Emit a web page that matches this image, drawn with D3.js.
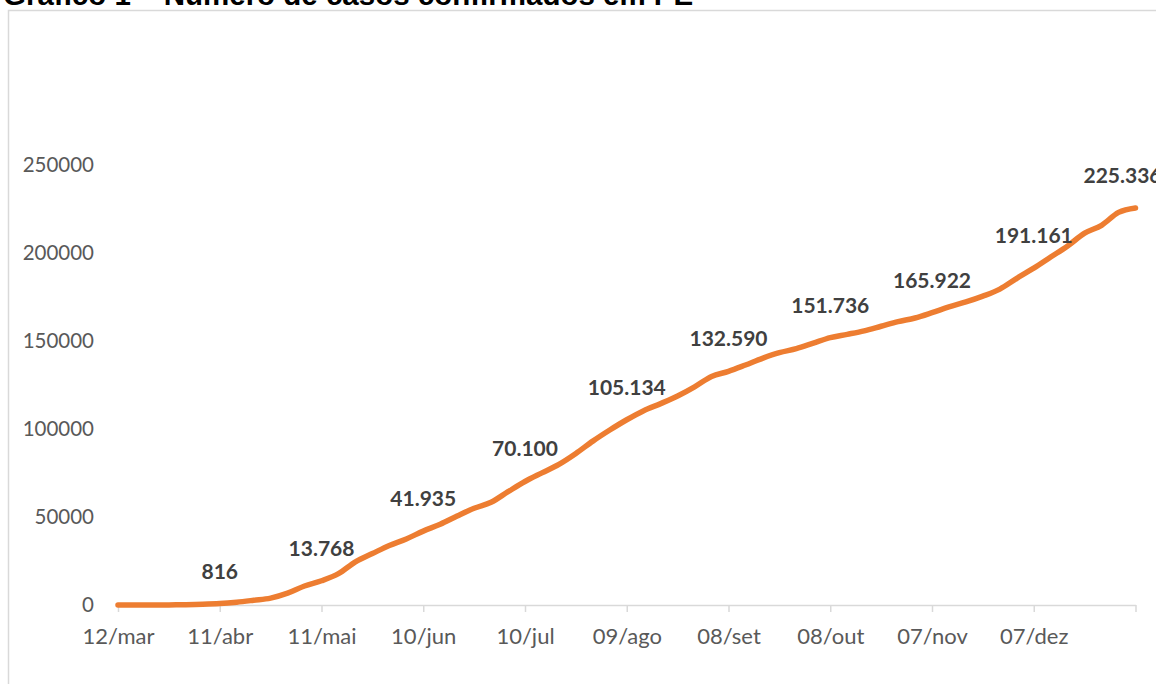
<!DOCTYPE html>
<html>
<head>
<meta charset="utf-8">
<script src="https://cdn.jsdelivr.net/npm/d3@7"></script>
<style>
  html, body { margin: 0; padding: 0; background: #fff; overflow: hidden; }
</style>
</head>
<body>
<div id="chart"></div>
<script>
// casos confirmados acumulados em PE (a cada 5 dias)
const dates = [
  "2020-03-12","2020-03-17","2020-03-22","2020-03-27","2020-04-01","2020-04-06",
  "2020-04-11","2020-04-16","2020-04-21","2020-04-26","2020-05-01","2020-05-06",
  "2020-05-11","2020-05-16","2020-05-21","2020-05-26","2020-05-31","2020-06-05",
  "2020-06-10","2020-06-15","2020-06-20","2020-06-25","2020-06-30","2020-07-05",
  "2020-07-10","2020-07-15","2020-07-20","2020-07-25","2020-07-30","2020-08-04",
  "2020-08-09","2020-08-14","2020-08-19","2020-08-24","2020-08-29","2020-09-03",
  "2020-09-08","2020-09-13","2020-09-18","2020-09-23","2020-09-28","2020-10-03",
  "2020-10-08","2020-10-13","2020-10-18","2020-10-23","2020-10-28","2020-11-02",
  "2020-11-07","2020-11-12","2020-11-17","2020-11-22","2020-11-27","2020-12-02",
  "2020-12-07","2020-12-12","2020-12-17","2020-12-22","2020-12-27","2021-01-01",
  "2021-01-06"
];
const cases = [
  2, 30, 60, 70, 170, 400,
  816, 1600, 2700, 3900, 6700, 10800,
  13768, 17800, 24500, 29200, 33800, 37500,
  41935, 45800, 50500, 54900, 58300, 64300,
  70100, 75000, 79800, 86000, 93000, 99300,
  105134, 110300, 114300, 118600, 123800, 129700,
  132590, 136200, 140000, 143200, 145500, 148600,
  151736, 153600, 155600, 158200, 160800, 162900,
  165922, 169200, 172000, 175300, 179300, 185400,
  191161, 197500, 203800, 211000, 215500, 222800,
  225336
];

// pontos com rótulo de dados
const labelDates = [
  "2020-04-11","2020-05-11","2020-06-10","2020-07-10","2020-08-09",
  "2020-09-08","2020-10-08","2020-11-07","2020-12-07","2021-01-06"
];

const tickDates = [
  "2020-03-12","2020-04-11","2020-05-11","2020-06-10","2020-07-10","2020-08-09",
  "2020-09-08","2020-10-08","2020-11-07","2020-12-07","2021-01-06"
];
const tickLabels = [
  "12/mar","11/abr","11/mai","10/jun","10/jul","09/ago",
  "08/set","08/out","07/nov","07/dez",""
];

const yTicks = [0, 50000, 100000, 150000, 200000, 250000];

const title = "Gráfico 1 – Número de casos confirmados em PE";

const width = 1156, height = 684;
const parse = d3.timeParse("%Y-%m-%d");
const data = dates.map((d, i) => ({date: parse(d), value: cases[i]}));
const ptBR = d3.formatLocale({decimal: ",", thousands: ".", grouping: [3], currency: ["R$", ""]});
const fmt = ptBR.format(",d");

const font = "Lato, 'Open Sans', sans-serif";

const svg = d3.select("#chart")
  .append("svg")
  .attr("width", width)
  .attr("height", height);

// moldura do gráfico
svg.append("rect")
  .attr("x", 8.5)
  .attr("y", 10.5)
  .attr("width", width + 20)
  .attr("height", height + 20)
  .attr("fill", "none")
  .attr("stroke", "#d9d9d9")
  .attr("stroke-width", 1.5);

svg.append("text")
  .attr("x", 3)
  .attr("y", 4.5)
  .style("font-family", "'Liberation Sans', Arial, sans-serif")
  .style("font-weight", "bold")
  .style("font-size", "29.5px")
  .attr("fill", "#000")
  .text(title);

let x = d3.scaleTime()
  .domain([parse(tickDates[0]), parse(tickDates[tickDates.length - 1])])
  .range([118, 1135.5]);

let y = d3.scaleLinear()
  .domain([0, 250000])
  .range([605, 164.5]);

// eixo X
let xAxis = g => g
  .attr("transform", `translate(0, ${y(0)})`)
  .call(d3.axisBottom(x)
    .tickValues(tickDates.map(parse))
    .tickFormat((d, i) => tickLabels[i])
    .tickSizeInner(7)
    .tickSizeOuter(0)
    .tickPadding(16))
  .call(g => g.select(".domain").attr("stroke", "#d9d9d9").attr("stroke-width", 1.5))
  .call(g => g.selectAll(".tick line").attr("stroke", "#d9d9d9").attr("stroke-width", 1.5))
  .call(g => g.selectAll(".tick text")
    .attr("fill", "#595959")
    .style("font-family", font)
    .style("font-size", "22px"));

// eixo Y sem linha
let yAxis = g => g
  .attr("transform", `translate(94, 0)`)
  .call(d3.axisLeft(y)
    .tickValues(yTicks)
    .tickFormat(d3.format("d"))
    .tickSize(0)
    .tickPadding(0))
  .call(g => g.select(".domain").remove())
  .call(g => g.selectAll(".tick text")
    .attr("fill", "#595959")
    .style("font-family", font)
    .style("font-size", "20.5px"));

svg.append("g").call(xAxis);
svg.append("g").call(yAxis);

let line = d3.line()
  .x(d => x(d.date))
  .y(d => y(d.value))
  .curve(d3.curveMonotoneX);

svg.append("path")
  .datum(data)
  .attr("fill", "none")
  .attr("stroke", "#ED7D31")
  .attr("stroke-width", 5.5)
  .attr("stroke-linejoin", "round")
  .attr("stroke-linecap", "round")
  .attr("d", line);

let labelled = data.filter(d => labelDates.includes(d3.timeFormat("%Y-%m-%d")(d.date)));

svg.append("g")
  .selectAll("text")
  .data(labelled)
  .enter().append("text")
    .attr("x", d => x(d.date))
    .attr("y", d => y(d.value) - 25)
    .attr("dx", (d, i) => i === labelled.length - 1 ? -13 : 0)
    .attr("text-anchor", "middle")
    .attr("fill", "#404040")
    .style("font-family", font)
    .style("font-weight", "bold")
    .style("font-size", "21px")
    .text(d => fmt(d.value));
</script>
</body>
</html>
